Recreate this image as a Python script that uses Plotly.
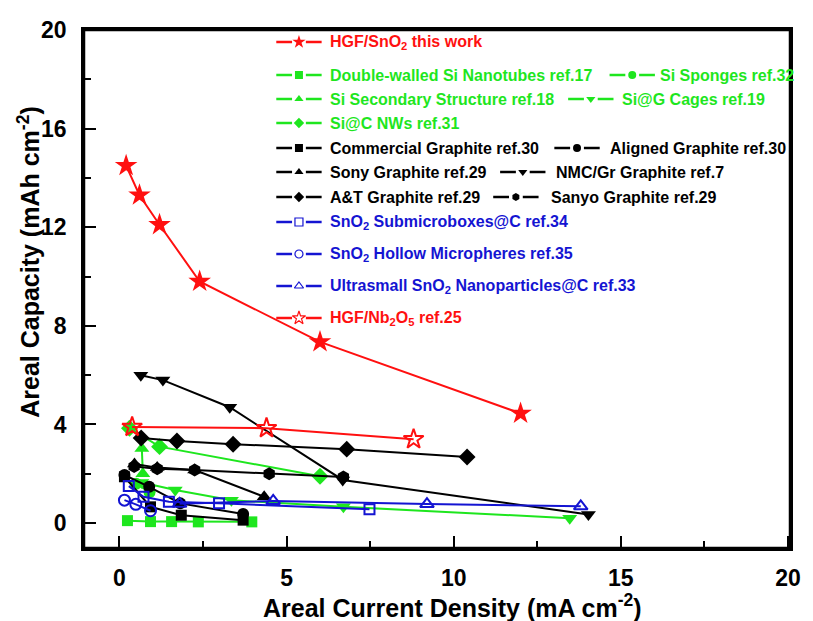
import plotly.graph_objects as go

# ---------------- data ----------------
hgf_sno2_x = [0.2, 0.6, 1.2, 2.4, 6.0, 12.0]
hgf_sno2_y = [14.5, 13.3, 12.1, 9.8, 7.35, 4.45]

dw_si_x = [0.24, 0.93, 1.56, 2.36, 3.96]
dw_si_y = [0.1, 0.06, 0.06, 0.05, 0.05]

si_sponge_x = [0.5, 0.9]
si_sponge_y = [1.6, 1.25]

si_sec_x = [0.67, 0.7]
si_sec_y = [3.03, 2.0]

si_g_x = [0.67, 1.67, 3.35, 6.7, 13.47]
si_g_y = [1.65, 1.34, 0.93, 0.66, 0.2]

si_c_x = [0.3, 1.2, 6.0]
si_c_y = [3.85, 3.1, 1.9]

comm_x = [0.15, 0.93, 1.85, 3.7]
comm_y = [1.88, 0.66, 0.32, 0.12]

aligned_x = [0.15, 0.89, 1.82, 3.7]
aligned_y = [1.95, 1.47, 0.8, 0.37]

sony_x = [0.45, 1.13, 2.25, 4.33]
sony_y = [2.4, 2.25, 2.15, 1.07]

nmc_x = [0.64, 1.3, 3.3, 6.68, 14.03]
nmc_y = [6.0, 5.8, 4.7, 1.75, 0.35]

at_x = [0.65, 1.72, 3.4, 6.8, 10.4]
at_y = [3.45, 3.33, 3.2, 3.0, 2.68]

sanyo_x = [0.44, 1.13, 2.25, 4.48, 6.7]
sanyo_y = [2.3, 2.2, 2.15, 2.0, 1.87]

box_x = [0.28, 0.72, 1.48, 2.98, 7.48]
box_y = [1.5, 1.07, 0.87, 0.8, 0.56]

hollow_x = [0.15, 0.49, 0.93]
hollow_y = [0.93, 0.76, 0.5]

ultra_x = [1.8, 4.6, 9.2, 13.8]
ultra_y = [0.78, 0.9, 0.77, 0.68]

nb2o5_x = [0.38, 4.4, 8.8]
nb2o5_y = [3.9, 3.85, 3.4]

x_ticks = [0, 5, 10, 15, 20]
y_ticks = [0, 4, 8, 12, 16, 20]

RED = "#ff1010"
GREEN = "#1ee61e"
BLACK = "#000000"
BLUE = "#1414d2"

# name, x, y, color, symbol, size, legend row, legend column
series = [
    ("HGF/SnO<sub>2</sub> this work", hgf_sno2_x, hgf_sno2_y, RED, "star", 17, 0, 0),
    ("Double-walled Si Nanotubes ref.17", dw_si_x, dw_si_y, GREEN, "square", 11, 1, 0),
    ("Si Sponges ref.32", si_sponge_x, si_sponge_y, GREEN, "circle", 12, 1, 1),
    ("Si Secondary Structure ref.18", si_sec_x, si_sec_y, GREEN, "triangle-up", 13, 2, 0),
    ("Si@G Cages ref.19", si_g_x, si_g_y, GREEN, "triangle-down", 13, 2, 1),
    ("Si@C NWs ref.31", si_c_x, si_c_y, GREEN, "diamond", 13, 3, 0),
    ("Commercial Graphite ref.30", comm_x, comm_y, BLACK, "square", 11, 4, 0),
    ("Aligned Graphite ref.30", aligned_x, aligned_y, BLACK, "circle", 12, 4, 1),
    ("Sony Graphite ref.29", sony_x, sony_y, BLACK, "triangle-up", 13, 5, 0),
    ("NMC/Gr Graphite ref.7", nmc_x, nmc_y, BLACK, "triangle-down", 13, 5, 1),
    ("A&T Graphite ref.29", at_x, at_y, BLACK, "diamond", 13, 6, 0),
    ("Sanyo Graphite ref.29", sanyo_x, sanyo_y, BLACK, "hexagon", 13, 6, 1),
    ("SnO<sub>2</sub> Submicroboxes@C ref.34", box_x, box_y, BLUE, "square-open", 10, 7, 0),
    ("SnO<sub>2</sub> Hollow Micropheres ref.35", hollow_x, hollow_y, BLUE, "circle-open", 11, 8, 0),
    ("Ultrasmall SnO<sub>2</sub> Nanoparticles@C ref.33", ultra_x, ultra_y, BLUE, "triangle-up-open", 12, 9, 0),
    ("HGF/Nb<sub>2</sub>O<sub>5</sub> ref.25", nb2o5_x, nb2o5_y, RED, "star-open", 15, 10, 0),
]

# legend layout (pixel positions inside the page)
row_y = [42, 75, 99, 123, 148, 172, 197, 222, 254, 286, 318]
col1 = (302, 331)
col2 = {1: (640, 666), 2: (598, 628), 4: (584, 615), 5: (529, 561), 6: (522, 556)}

FONT = "Liberation Sans, Arial, sans-serif"
L, R, T, B = 84, 800, 30, 548  # plot-area edges in page pixels


def px2paper(px, py):
    return (px - L) / (R - L), (B - py) / (B - T)


fig = go.Figure()

for name, xs, ys, col, sym, sz, row, column in series:
    fig.add_trace(go.Scatter(
        x=xs, y=ys, mode="lines+markers", name=name, showlegend=False,
        line=dict(color=col, width=2),
        marker=dict(symbol=sym, size=sz, color=col,
                    line=dict(color=col, width=2 if "open" in sym else 0)),
    ))

annotations = []
for name, xs, ys, col, sym, sz, row, column in series:
    cx, tx = col1 if column == 0 else col2[row]
    cy = row_y[row]
    fig.add_trace(go.Scatter(
        x=[cx - 23, cx - 7, None, cx + 7, cx + 23], y=[cy, cy, None, cy, cy],
        mode="lines", xaxis="x2", yaxis="y2", showlegend=False,
        line=dict(color=col, width=2.5), hoverinfo="skip"))
    fig.add_trace(go.Scatter(
        x=[cx], y=[cy], mode="markers", xaxis="x2", yaxis="y2", showlegend=False,
        marker=dict(symbol=sym, size=8 if "star" not in sym else 10, color=col,
                    line=dict(color=col, width=1.2 if "open" in sym else 0)),
        hoverinfo="skip"))
    annotations.append(dict(
        x=tx, y=cy, xref="x2", yref="y2", text="<b>" + name + "</b>",
        showarrow=False, xanchor="left", yanchor="middle",
        font=dict(family=FONT, size=16, color=col)))

# axis titles (paper coordinates)
xt = px2paper(458, 606)
yt = px2paper(28, 262)
annotations.append(dict(
    x=xt[0], y=xt[1], xref="paper", yref="paper", xanchor="center", yanchor="middle",
    text="<b>Areal Current Density (mA cm<sup>-2</sup>)</b>", showarrow=False,
    font=dict(family=FONT, size=25, color="black")))
annotations.append(dict(
    x=yt[0], y=yt[1], xref="paper", yref="paper", xanchor="center", yanchor="middle",
    text="<b>Areal Capacity (mAh cm<sup>-2</sup>)</b>", showarrow=False, textangle=-90,
    font=dict(family=FONT, size=25, color="black")))

fig.update_layout(
    width=813, height=621,
    margin=dict(l=L, r=813 - R, t=T, b=621 - B),
    paper_bgcolor="white", plot_bgcolor="white",
    font=dict(family=FONT, color="black"),
    annotations=annotations,
    shapes=[dict(type="rect", xref="paper", yref="paper", x0=0, y0=0, x1=1, y1=1,
                 line=dict(color="black", width=2.5), layer="above")],
    xaxis=dict(
        range=[-1.06, 20.06], tickvals=x_ticks, ticktext=["<b>%d</b>" % v for v in x_ticks],
        ticks="inside", ticklen=12, tickwidth=2, tickcolor="black",
        minor=dict(tickvals=[2.5, 7.5, 12.5, 17.5], ticks="inside", ticklen=7, tickwidth=2, tickcolor="black"),
        showline=True, linecolor="black", linewidth=2.5, mirror=True,
        showgrid=False, zeroline=False, ticklabelstandoff=8,
        tickfont=dict(family=FONT, size=23, color="black"),
    ),
    yaxis=dict(
        range=[-1.01, 20], tickvals=y_ticks, ticktext=["<b>%d</b>" % v for v in y_ticks],
        ticks="inside", ticklen=12, tickwidth=2, tickcolor="black",
        minor=dict(tickvals=[2, 6, 10, 14, 18], ticks="inside", ticklen=7, tickwidth=2, tickcolor="black"),
        showline=True, linecolor="black", linewidth=2.5, mirror=True,
        showgrid=False, zeroline=False, ticklabelstandoff=10,
        tickfont=dict(family=FONT, size=23, color="black"),
    ),
    xaxis2=dict(overlaying="x", range=[L, R], visible=False, fixedrange=True),
    yaxis2=dict(overlaying="y", range=[B, T], visible=False, fixedrange=True),
)

fig.write_html("out.html")
